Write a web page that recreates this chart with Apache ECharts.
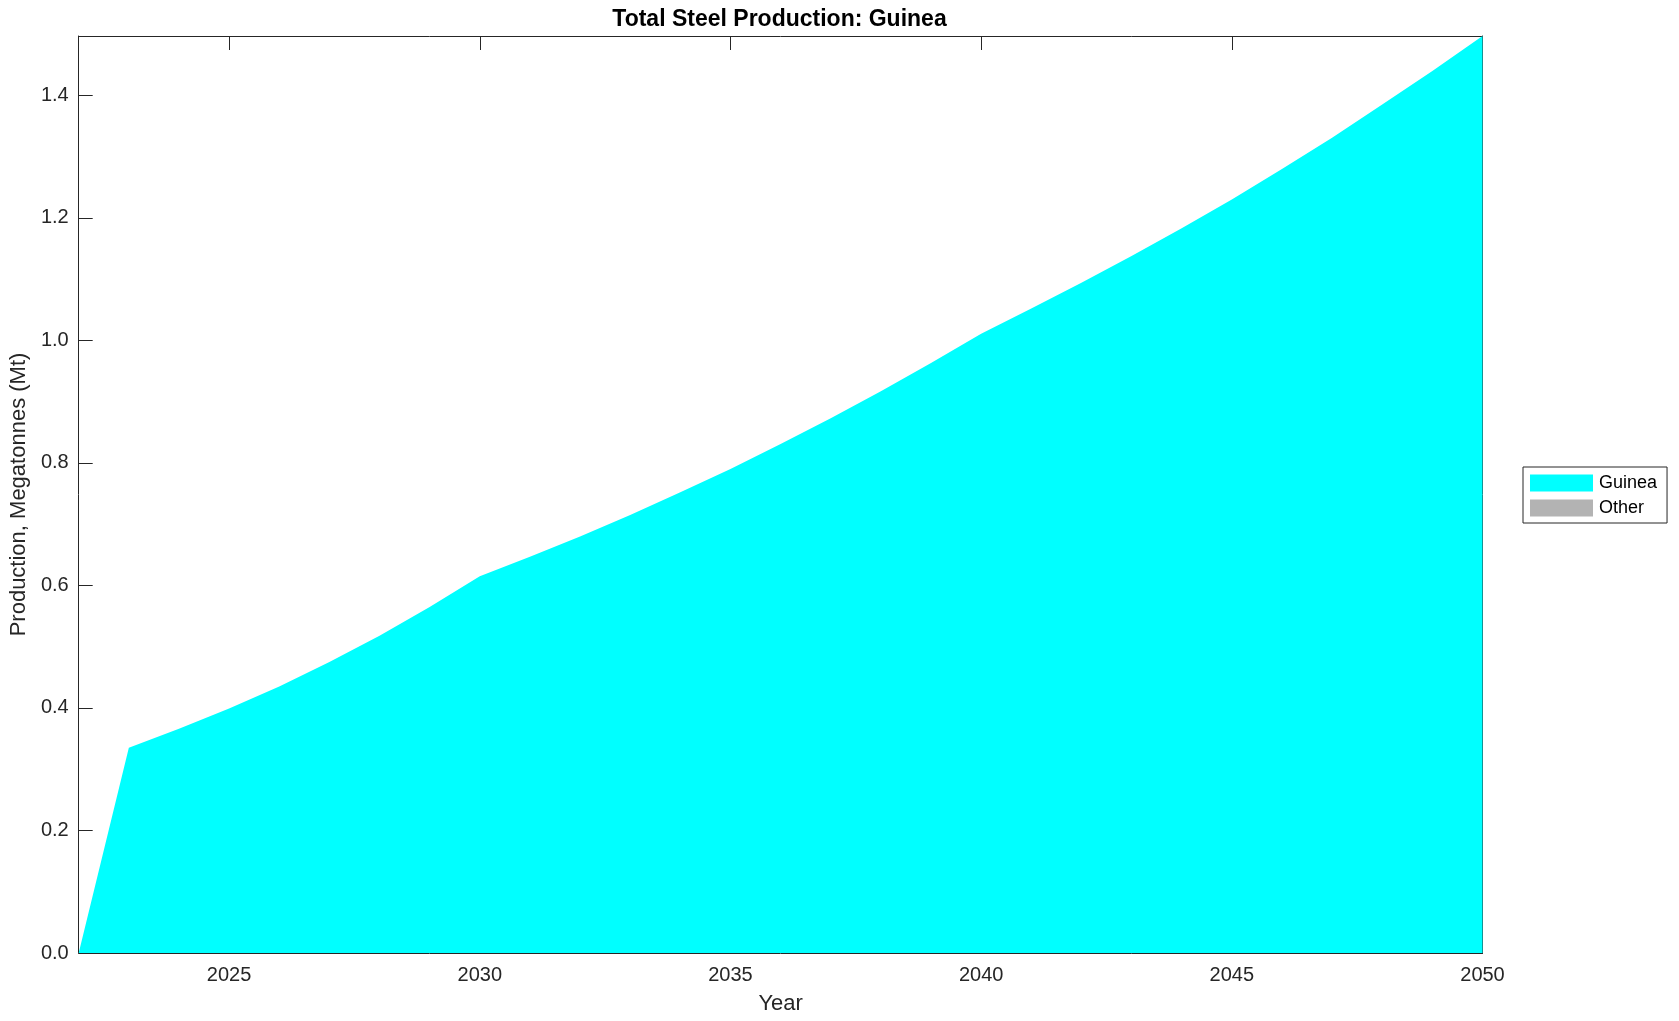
<!DOCTYPE html>
<html>
<head>
<meta charset="utf-8">
<script src="https://cdn.jsdelivr.net/npm/echarts@6/dist/echarts.min.js"></script>
<style>
html,body{margin:0;padding:0;background:#fff;}
#chart{width:1679px;height:1021px;}
</style>
</head>
<body>
<div id="chart"></div>
<script>
const years = [2022,2023,2024,2025,2026,2027,2028,2029,2030,2031,2032,2033,2034,2035,2036,2037,2038,2039,2040,2041,2042,2043,2044,2045,2046,2047,2048,2049,2050];
const guinea = [0,0.335,0.366,0.399,0.435,0.475,0.518,0.565,0.615,0.647,0.680,0.715,0.752,0.790,0.831,0.873,0.917,0.963,1.011,1.052,1.094,1.138,1.183,1.230,1.280,1.331,1.385,1.440,1.497];
const other = [0,0,0,0,0,0,0,0,0,0,0,0,0,0,0,0,0,0,0,0,0,0,0,0,0,0,0,0,0];
const xTicks = [2025,2030,2035,2040,2045,2050];
const yTicks = [0,0.2,0.4,0.6,0.8,1.0,1.2,1.4];
const titleText = 'Total Steel Production: Guinea';
const xName = 'Year';
const yName = 'Production, Megatonnes (Mt)';
const seriesNames = ['Guinea','Other'];

const FONT = '"Liberation Sans", Arial, Helvetica, sans-serif';
const INK = '#262626';
const chart = echarts.init(document.getElementById('chart'), null, {renderer:'canvas'});

const axisLineStyle = {show:true, onZero:false, lineStyle:{color:INK, width:1}};
const baseX = {type:'value', min:2022, max:2050, splitLine:{show:false}, axisLine:axisLineStyle};
const baseY = {type:'value', min:0, max:1.497, splitLine:{show:false}, axisLine:axisLineStyle};

chart.setOption({
  animation:false,
  backgroundColor:'#ffffff',
  textStyle:{fontFamily:FONT},
  grid:{left:76.5, right:196.5, top:36, bottom:68, containLabel:false},
  graphic:[{
    type:'text', x:779.5, y:20,
    style:{text:titleText, font:'bold 23px ' + FONT, fill:'#000', textAlign:'center', textVerticalAlign:'middle'}
  }],
  legend:{
    orient:'vertical', left:1523, top:467,
    data:seriesNames, icon:'rect', itemWidth:63, itemHeight:17, itemGap:7,
    padding:[7,10,6,7], borderColor:INK, borderWidth:1, backgroundColor:'#fff',
    textStyle:{fontFamily:FONT, fontSize:18, color:'#000', padding:[0,0,0,1]}
  },
  xAxis:[
    Object.assign({}, baseX, {
      position:'bottom', name:xName, nameLocation:'middle', nameGap:40,
      nameTextStyle:{fontFamily:FONT, fontSize:22, color:INK},
      axisTick:{show:true, inside:true, length:14, customValues:xTicks, lineStyle:{color:INK}},
      axisLabel:{show:true, customValues:xTicks, fontFamily:FONT, fontSize:20, color:INK, margin:12,
        formatter:(v)=>String(Math.round(v))}
    }),
    Object.assign({}, baseX, {
      position:'top',
      axisTick:{show:true, inside:true, length:14, customValues:xTicks, lineStyle:{color:INK}},
      axisLabel:{show:false}
    })
  ],
  yAxis:[
    Object.assign({}, baseY, {
      position:'left', name:yName, nameLocation:'middle', nameGap:45,
      nameTextStyle:{fontFamily:FONT, fontSize:22, color:INK},
      axisTick:{show:true, inside:true, length:14, customValues:yTicks, lineStyle:{color:INK}},
      axisLabel:{show:true, customValues:yTicks, fontFamily:FONT, fontSize:20, color:INK, margin:10,
        formatter:(v)=>Number(v).toFixed(1)}
    }),
    Object.assign({}, baseY, {
      position:'right',
      axisTick:{show:true, inside:true, length:14, customValues:yTicks, lineStyle:{color:INK}},
      axisLabel:{show:false}
    })
  ],
  series:[
    {
      name:seriesNames[0], type:'line', stack:'total', xAxisIndex:0, yAxisIndex:0,
      data:years.map((y,i)=>[y, guinea[i]]),
      showSymbol:false, symbol:'none', lineStyle:{width:0, color:'#00ffff'},
      itemStyle:{color:'#00ffff'}, areaStyle:{color:'#00ffff', opacity:1}, z:1
    },
    {
      name:seriesNames[1], type:'line', stack:'total', xAxisIndex:0, yAxisIndex:0,
      data:years.map((y,i)=>[y, other[i]]),
      showSymbol:false, symbol:'none', lineStyle:{width:0, color:'#b3b3b3'},
      itemStyle:{color:'#b3b3b3'}, areaStyle:{color:'#b3b3b3', opacity:1}, z:1
    }
  ]
});
</script>
</body>
</html>
